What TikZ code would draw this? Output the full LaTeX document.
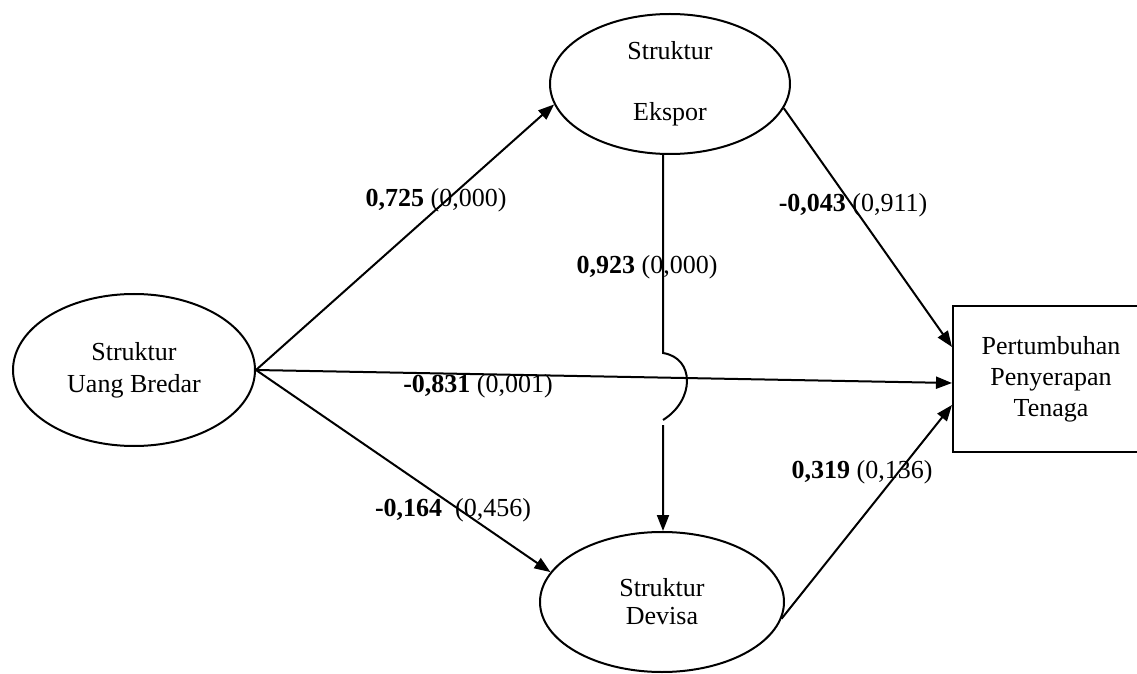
\documentclass[tikz,border=0pt]{standalone}
\usepackage{fontspec}
\setmainfont{Liberation Serif}
\usetikzlibrary{shapes.geometric,arrows.meta,calc}

\tikzset{
	latent/.style={draw, ellipse, line width=1pt, inner sep=0pt, align=center},
	observed/.style={draw, rectangle, line width=1pt, inner sep=0pt, align=center},
	effect/.style={line width=1pt, -{Triangle[length=8pt,width=6pt]}},
	coef/.style={inner sep=1pt}
}

\begin{document}
\begin{tikzpicture}[x=0.5pt, y=-0.5pt, font=\fontsize{13}{15.5}\selectfont]

	\useasboundingbox (0,0) rectangle (1137,674);
	\clip (0,0) rectangle (1137,674);

	\node[latent, minimum width=121pt, minimum height=76pt] (uang) at (134,370) {Struktur\\[0.5pt]Uang Bredar};
	\node[latent, minimum width=120pt, minimum height=70pt] (ekspor) at (670,84) {Struktur\\[15pt]Ekspor};
	\node[latent, minimum width=122pt, minimum height=70pt] (devisa) at (662,602) {Struktur\\[-1.5pt]Devisa};
	\node[observed, minimum width=98pt, minimum height=73pt] (tenaga) at (1051,379) {Pertumbuhan\\Penyerapan\\Tenaga};

	\node[coef] (b1) at (436,200) {\textbf{0,725} (0,000)};
	\node[coef] (b2) at (647,267) {\textbf{0,923} (0,000)};
	\node[coef] (b3) at (853,205) {\textbf{-0,043} (0,911)};
	\node[coef] (b4) at (478,386) {\textbf{-0,831} (0,001)};
	\node[coef] (b5) at (453,510) {\textbf{-0,164}\ \ (0,456)};
	\node[coef] (b6) at (862,472) {\textbf{0,319} (0,136)};

	\draw[effect] (uang.east) -- (ekspor.190);
	\draw[effect] (uang.east) -- ($(tenaga.west)+(0,4)$);
	\draw[effect] (uang.east) -- (devisa.165);
	\draw[effect] (ekspor.-12) -- ($(tenaga.west)+(0,-32)$);
	\draw[effect] (devisa.-8) -- ($(tenaga.west)+(0,26)$);
	\draw[effect] (663,0 |- ekspor.south) -- (663,353)
		.. controls (695,358) and (695,400) .. (663,420)
		(663,425) -- (663,0 |- devisa.north);

\end{tikzpicture}
\end{document}
